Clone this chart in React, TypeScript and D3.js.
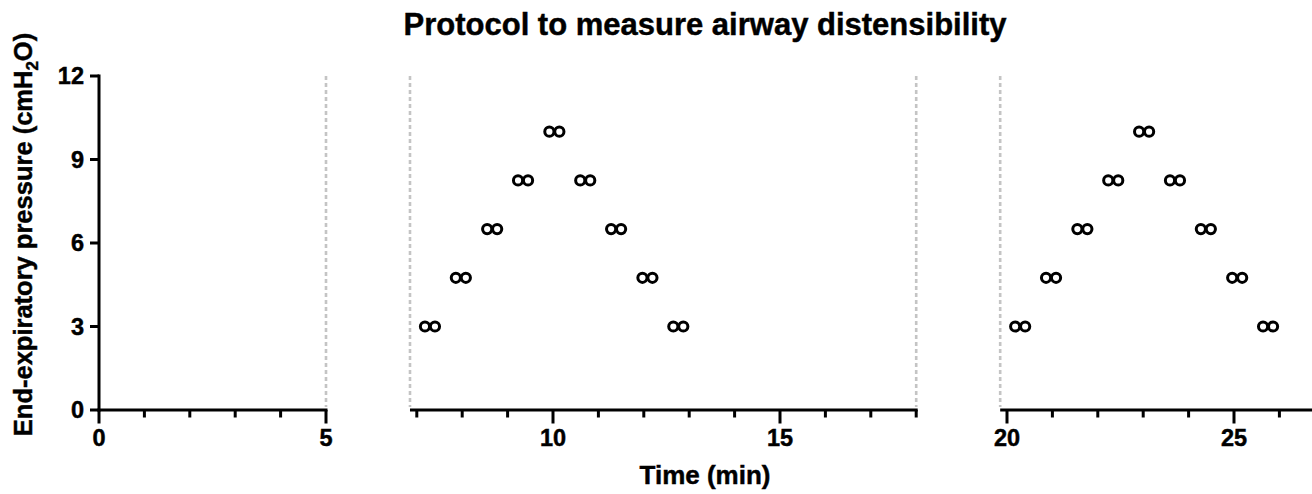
import React from "react";
import * as d3 from "d3";

const chartTitle = "Protocol to measure airway distensibility";
const xAxisTitle = "Time (min)";
const yTitleMain = "End-expiratory pressure (cmH";
const yTitleSub = "2";
const yTitleEnd = "O)";

// Pressure steps (cmH2O), the same sequence in both measurement blocks
const pressureSteps = [3, 4.75, 6.5, 8.25, 10, 8.25, 6.5, 4.75, 3];
// Block 1 (min): first and second measurement of each step
const block1First = [7.18, 7.86, 8.55, 9.23, 9.92, 10.6, 11.28, 11.97, 12.65];
const block1Second = [7.4, 8.08, 8.77, 9.45, 10.14, 10.82, 11.5, 12.19, 12.87];
// Block 2 (min)
const block2First = [20.18, 20.86, 21.55, 22.23, 22.91, 23.59, 24.27, 24.96, 25.64];
const block2Second = [20.4, 21.08, 21.77, 22.45, 23.13, 23.81, 24.49, 25.18, 25.86];

const yTicks = [0, 3, 6, 9, 12];
const xMajorTicks = [0, 5, 10, 15, 20, 25];
const xSegmentStarts = [0, 6.85, 19.85];
const xSegmentEnds = [5, 18, 27];
const phaseLines = [5, 6.85, 18, 19.85];

const W = 1312;
const H = 494;
const FONT = "'Liberation Sans', Arial, Helvetica, sans-serif";

export default function App() {
  const x = d3.scaleLinear().domain([0, 27]).range([99, 99 + 27 * 45.4]);
  const y = d3.scaleLinear().domain([0, 12]).range([410, 76]);

  const segments = xSegmentStarts.map((s, i) => [s, xSegmentEnds[i]] as [number, number]);
  const minorTicks: number[] = [];
  segments.forEach(([s, e]) => {
    d3.range(Math.ceil(s), Math.floor(e) + 1).forEach((t) => {
      if (!xMajorTicks.includes(t)) minorTicks.push(t);
    });
  });

  const points: { t: number; p: number }[] = [];
  pressureSteps.forEach((p, i) => {
    points.push({ t: block1First[i], p });
    points.push({ t: block1Second[i], p });
    points.push({ t: block2First[i], p });
    points.push({ t: block2Second[i], p });
  });

  const axisY = y(0);
  const yMid = (437 + 32) / 2;
  const sw = 3;

  return (
    <svg
      width={W}
      height={H}
      style={{ position: "absolute", left: 0, top: 0, background: "#fff" }}
      fontFamily={FONT}
      fontWeight="bold"
    >
      <g stroke="#000" strokeWidth={0.45}>
        <text x={705} y={35} textAnchor="middle" fontSize={31}>
          {chartTitle}
        </text>
        {yTicks.map((v) => (
          <text key={"yl" + v} x={84} y={y(v)} dy="0.36em" textAnchor="end" fontSize={23.5}>
            {v}
          </text>
        ))}
        {xMajorTicks.map((t) => (
          <text key={"xl" + t} x={x(t)} y={446} textAnchor="middle" fontSize={23.5}>
            {t}
          </text>
        ))}
        <text x={705} y={484} textAnchor="middle" fontSize={26}>
          {xAxisTitle}
        </text>
        <text transform={`translate(32,${yMid}) rotate(-90)`} textAnchor="middle" fontSize={25.5}>
          {yTitleMain}
          <tspan dy={6} fontSize={17}>
            {yTitleSub}
          </tspan>
          <tspan dy={-6}>{yTitleEnd}</tspan>
        </text>
      </g>

      {/* phase dashed lines */}
      {phaseLines.map((t, i) => (
        <line
          key={"pl" + i}
          x1={x(t)}
          x2={x(t)}
          y1={y(12)}
          y2={axisY - 3}
          stroke="#c4c4c4"
          strokeWidth={2.6}
          strokeDasharray="4 3"
        />
      ))}

      {/* y axis */}
      <line x1={x(0)} x2={x(0)} y1={y(12) - sw / 2} y2={axisY + sw / 2} stroke="#000" strokeWidth={sw} />
      {yTicks.map((v) => (
        <line key={"yt" + v} x1={x(0) - 9} x2={x(0)} y1={y(v)} y2={y(v)} stroke="#000" strokeWidth={sw} />
      ))}

      {/* x axis segments */}
      {segments.map(([s, e], i) => (
        <line
          key={"seg" + i}
          x1={x(s) - (i === 0 ? sw / 2 : 0)}
          x2={x(e) + (i < 2 ? sw / 2 : 0)}
          y1={axisY}
          y2={axisY}
          stroke="#000"
          strokeWidth={sw}
        />
      ))}
      {minorTicks.map((t) => (
        <line key={"mt" + t} x1={x(t)} x2={x(t)} y1={axisY} y2={axisY + 7.5} stroke="#000" strokeWidth={sw} />
      ))}
      {xMajorTicks.map((t) => (
        <line key={"xt" + t} x1={x(t)} x2={x(t)} y1={axisY} y2={axisY + 13.5} stroke="#000" strokeWidth={sw} />
      ))}

      {/* markers */}
      {points.map((d, i) => (
        <circle
          key={"pt" + i}
          cx={x(d.t)}
          cy={y(d.p)}
          r={4.6}
          fill="#fff"
          stroke="#000"
          strokeWidth={3}
        />
      ))}
    </svg>
  );
}
